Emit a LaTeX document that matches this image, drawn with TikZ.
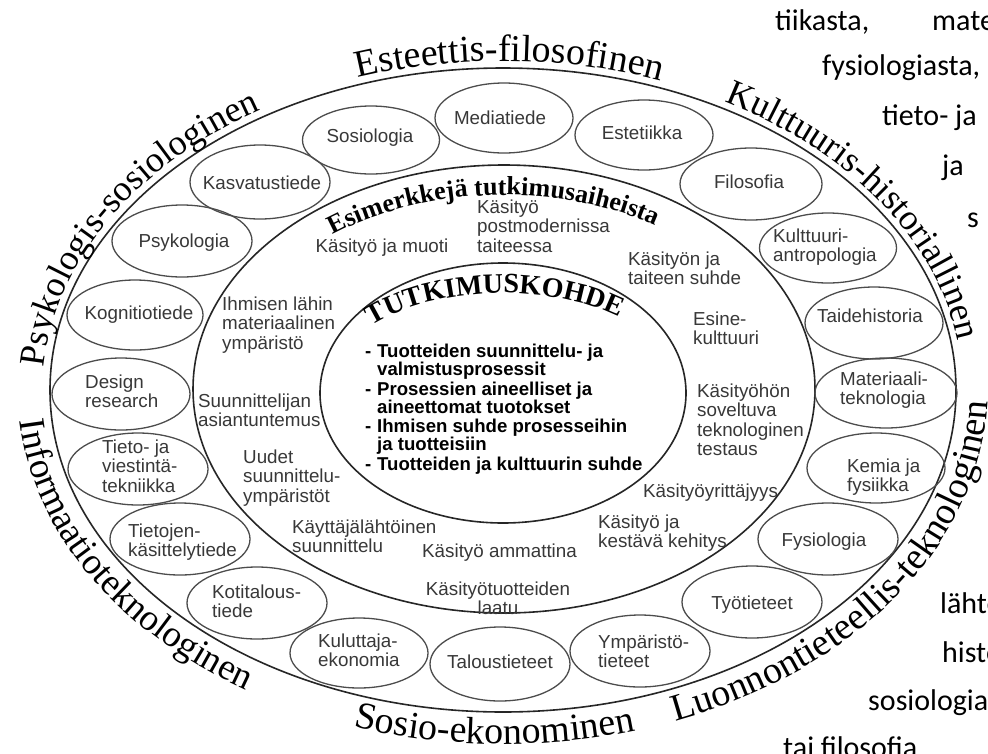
\documentclass[tikz,border=0pt]{standalone}
\usepackage{fontspec}
\setmainfont{Liberation Serif}
\setsansfont{Liberation Sans}
\newfontfamily\bgfont{Carlito}
\usetikzlibrary{decorations.text,shapes.geometric}
\tikzset{
  big/.style={draw=black!85,line width=1.6pt},
  sml/.style={draw=black!70,line width=1.3pt,ellipse,inner sep=0pt},
  lab/.style={font=\sffamily\fontsize{18.8}{19.5}\selectfont,text=black!78,inner sep=0pt},
  blt/.style={font=\sffamily\bfseries\fontsize{18.6}{19}\selectfont,text=black,inner sep=0pt},
  bgt/.style={font=\bgfont\fontsize{30}{30}\selectfont,text=black,inner sep=0pt,anchor=base west},
}
% #1 cx, #2 cy, #3 rx, #4 ry, #5 start angle, #6 end angle, #7 font, #8 text
\newcommand\curvetext[8]{%
  \path[decorate,decoration={text along path,text align=left,text={|#7|#8}}]
    ({#1+#3*cos(#5)},{#2+#4*sin(#5)}) arc[start angle=#5,end angle=#6,x radius=#3pt,y radius=#4pt];}
% #1 name, #2 style, #3 anchor, #4 x, #5 first baseline (px from top), #6 lines
\newcommand\mlines[6]{%
  \foreach \ln [count=\i] in {#6} {\node[#2,anchor=#3] (#1\i) at (#4,{-#5-(\i-1)*19.5}) {\ln};}}
% #1 name, #2 cx, #3 cy, #4 rx, #5 ry
\newcommand\smell[5]{\node[sml,minimum width=#4pt,minimum height=#5pt] (#1) at (#2,-#3) {};}
\begin{document}
\begin{tikzpicture}[x=1pt,y=1pt]
\useasboundingbox (0,0) rectangle (988,-753);
\fill[white] (0,0) rectangle (988,-753);

% background page text
\node[bgt] (bg1) at (775,-30) {tiikasta,};
\node[bgt] (bg2) at (932,-30) {mate};
\node[bgt] (bg3) at (822,-75) {fysiologiasta,};
\node[bgt] (bg4) at (882,-125) {tieto- ja};
\node[bgt] (bg5) at (942,-175) {ja};
\node[bgt] (bg6) at (967,-227) {s};
\node[bgt] (bg7) at (940,-613) {lähte};
\node[bgt] (bg8) at (942,-662) {histo};
\node[bgt] (bg9) at (868,-710) {sosiologia,};
\node[bgt] (bg10) at (783,-757) {tai filosofia};

% big ellipses
\draw[big] (503,-390) ellipse[x radius=453pt,y radius=322pt];
\draw[big] (504,-389) ellipse[x radius=311pt,y radius=224pt];
\draw[big] (503,-393) ellipse[x radius=183pt,y radius=130pt];

% outer curved headings
\curvetext{503}{-390}{460}{329}{176}{95}{\rmfamily\fontsize{36}{36}\selectfont}{Psykologis-sosiologinen}
\curvetext{503}{-390}{460}{329}{108.4}{50}{\rmfamily\fontsize{38}{38}\selectfont}{Esteettis-filosofinen}
\curvetext{503}{-390}{460}{329}{61.2}{-20}{\rmfamily\fontsize{36}{36}\selectfont}{Kulttuuris-historiallinen}
\curvetext{503}{-390}{485}{354}{185}{262}{\rmfamily\fontsize{37}{37}\selectfont}{Informaatioteknologinen}
\curvetext{503}{-390}{485}{354}{252}{300}{\rmfamily\fontsize{38}{38}\selectfont}{Sosio-ekonominen}
\curvetext{503}{-390}{485}{354}{290.8}{390}{\rmfamily\fontsize{38}{38}\selectfont}{Luonnontieteellis-teknologinen}

% inner curved headings
\curvetext{504}{-389}{281}{194}{127.5}{30}{\rmfamily\bfseries\fontsize{26}{26}\selectfont}{Esimerkkejä tutkimusaiheista}
\curvetext{503}{-385}{172}{92}{139.6}{10}{\rmfamily\bfseries\fontsize{28}{28}\selectfont}{TUTKIMUSKOHDE}

% small ellipses (disciplines)
\smell{sos}{371}{140}{137}{68}
\smell{med}{504}{118}{138}{70}
\smell{est}{644}{135}{138}{70}
\smell{fil}{751}{184}{142}{72}
\smell{kan}{828}{248}{137}{70}
\smell{tah}{874}{323}{138}{72}
\smell{mat}{886}{393}{142}{70}
\smell{kem}{876}{468}{138}{70}
\smell{fys}{828}{539}{140}{72}
\smell{tyo}{752}{602}{140}{72}
\smell{ymp}{640}{651}{140}{72}
\smell{tal}{500}{664}{140}{74}
\smell{kul}{359}{653}{138}{70}
\smell{kot}{257}{603}{140}{72}
\smell{tkt}{180}{539}{140}{72}
\smell{tvt}{138}{469}{140}{72}
\smell{des}{121}{394}{138}{72}
\smell{kog}{135}{315}{136}{70}
\smell{psy}{182}{241}{140}{72}
\smell{kas}{260}{182}{140}{74}

% discipline labels
\node[lab] (lsos) at (370,-138) {Sosiologia};
\node[lab] (lmed) at (500,-118) {Mediatiede};
\node[lab] (lest) at (642,-133) {Estetiikka};
\node[lab] (lfil) at (749,-182) {Filosofia};
\mlines{lkan}{lab}{base west}{773}{242}{Kulttuuri-,antropologia}
\node[lab] (ltah) at (870,-316) {Taidehistoria};
\mlines{lmat}{lab}{base west}{840}{385}{Materiaali-,teknologia}
\mlines{lkem}{lab}{base west}{847}{472}{Kemia ja,fysiikka}
\node[lab] (lfys) at (824,-542) {Fysiologia};
\node[lab] (ltyo) at (752,-605) {Työtieteet};
\mlines{lymp}{lab}{base west}{598}{648}{Ympäristö-,tieteet}
\node[lab] (ltal) at (500,-662) {Taloustieteet};
\mlines{lkul}{lab}{base west}{318}{647}{Kuluttaja-,ekonomia}
\mlines{lkot}{lab}{base west}{212}{598}{Kotitalous-,tiede}
\mlines{ltkt}{lab}{base west}{128}{537}{Tietojen-,käsittelytiede}
\mlines{ltvt}{lab}{base west}{102}{453}{Tieto- ja,viestintä-,tekniikka}
\mlines{ldes}{lab}{base west}{85}{388}{Design,research}
\node[lab] (lkog) at (139,-315) {Kognitiotiede};
\node[lab] (lpsy) at (184,-243) {Psykologia};
\node[lab] (lkas) at (262,-183) {Kasvatustiede};

% example topics
\node[lab] (emuo) at (382,-248) {Käsityö ja muoti};
\mlines{epos}{lab}{base west}{477}{213}{Käsityö,postmodernissa,taiteessa}
\mlines{etai}{lab}{base west}{628}{265}{Käsityön ja,taiteen suhde}
\mlines{eesi}{lab}{base west}{693}{325}{Esine-,kulttuuri}
\mlines{etek}{lab}{base west}{697}{397}{Käsityöhön,soveltuva,teknologinen,testaus}
\mlines{eyri}{lab}{base west}{643}{497}{Käsityöyrittäjyys}
\mlines{ekes}{lab}{base west}{598}{528}{Käsityö ja,kestävä kehitys}
\mlines{eamm}{lab}{base west}{422}{557}{Käsityö ammattina}
\mlines{elaa}{lab}{base}{498}{595}{Käsityötuotteiden,laatu}
\mlines{ekay}{lab}{base west}{292}{533}{Käyttäjälähtöinen,suunnittelu}
\mlines{euud}{lab}{base west}{243}{463}{Uudet,suunnittelu-,ympäristöt}
\mlines{easi}{lab}{base west}{198}{407}{Suunnittelijan,asiantuntemus}
\mlines{eihm}{lab}{base west}{222}{310}{Ihmisen lähin,materiaalinen,ympäristö}

% research object
\foreach \yy/\nm in {357/b1,395/b2,432/b3,470/b4}
  \node[blt,anchor=base west] (\nm) at (365,-\yy) {-};
\node[blt,anchor=base west] (t1) at (377,-357) {Tuotteiden suunnittelu- ja};
\node[blt,anchor=base west] (t2) at (377,-375) {valmistusprosessit};
\node[blt,anchor=base west] (t3) at (377,-395) {Prosessien aineelliset ja};
\node[blt,anchor=base west] (t4) at (377,-413) {aineettomat tuotokset};
\node[blt,anchor=base west] (t5) at (377,-432) {Ihmisen suhde prosesseihin};
\node[blt,anchor=base west] (t6) at (377,-450) {ja tuotteisiin};
\node[blt,anchor=base west] (t7) at (377,-470) {Tuotteiden ja kulttuurin suhde};
\end{tikzpicture}
\end{document}
